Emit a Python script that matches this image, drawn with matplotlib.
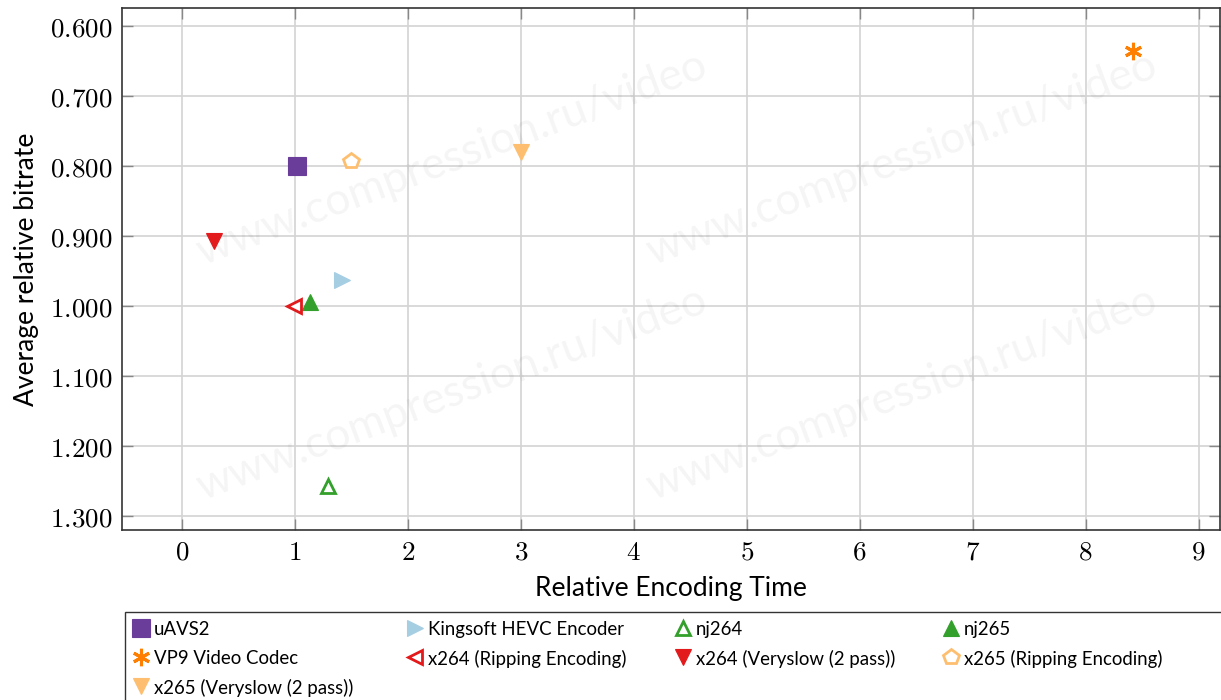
import matplotlib
matplotlib.use("Agg")
import matplotlib.pyplot as plt
from matplotlib.lines import Line2D
from matplotlib.patches import Rectangle

plt.rcParams['mathtext.fontset'] = 'cm'
plt.rcParams['font.family'] = ['Lato', 'DejaVu Sans']

# data
names = ["uAVS2", "Kingsoft HEVC Encoder", "nj264", "nj265", "VP9 Video Codec",
         "x264 (Ripping Encoding)", "x264 (Veryslow (2 pass))",
         "x265 (Ripping Encoding)", "x265 (Veryslow (2 pass))"]
enc_time = [1.02, 1.42, 1.29, 1.13, 8.42, 0.99, 0.28, 1.50, 3.00]
bitrate = [0.800, 0.963, 1.257, 0.994, 0.636, 1.000, 0.907, 0.793, 0.780]
x_ticks = [0, 1, 2, 3, 4, 5, 6, 7, 8, 9]
y_ticks = [0.6, 0.7, 0.8, 0.9, 1.0, 1.1, 1.2, 1.3]

# style per series: (marker, color, filled, size)
styles = [
    ('s', '#6a3d9a', True, 12.5),
    ('>', '#a6cee3', True, 11),
    ('^', '#33a02c', False, 10),
    ('^', '#33a02c', True, 11),
    ((6, 2, 0), '#ff7f00', True, 12.5),
    ('<', '#e31a1c', False, 10),
    ('v', '#e31a1c', True, 11),
    ('p', '#fdbf6f', False, 11.5),
    ('v', '#fdbf6f', True, 11),
]


def marker_kw(m, c, filled, ms):
    if m == (6, 2, 0):
        return dict(marker=m, markersize=ms, markeredgecolor=c, markeredgewidth=2.2)
    return dict(marker=m, markersize=ms, markerfacecolor=c if filled else 'white',
                markeredgecolor=c, markeredgewidth=0.8 if filled else 2.0)


W, H = 1221, 700
fig = plt.figure(figsize=(W / 100, H / 100), dpi=100)
ax = fig.add_axes([122/W, 1-530/H, 1 - 122/W - 1/W, (530-8)/H])

for n, x, y, st in zip(names, enc_time, bitrate, styles):
    ax.plot([x], [y], linestyle='none', zorder=3, **marker_kw(*st))

ax.set_xlim(-0.53, 9.19)
ax.set_ylim(1.32, 0.574)
ax.set_xticks(x_ticks)
ax.set_xticklabels([f'${v}$' for v in x_ticks], fontsize=19.5)
ax.set_yticks(y_ticks)
ax.set_yticklabels([f'${v:.3f}$' for v in y_ticks], fontsize=19.5)
ax.grid(True, color='#d3d3d3', linewidth=1.2)
ax.set_axisbelow(True)
ax.tick_params(direction='in', length=8, width=1, color='#888888',
               top=True, right=True, pad=7)
for s in ax.spines.values():
    s.set_color('#333333')
    s.set_linewidth(1.2)

ax.set_xlabel("Relative Encoding Time", fontsize=19, labelpad=8)
ax.set_ylabel("Average relative bitrate", fontsize=19, labelpad=8)

# watermark
for wx, wy in [(0.30, 0.71), (0.71, 0.71), (0.30, 0.26), (0.71, 0.26)]:
    ax.text(wx, wy, "www.compression.ru/video", transform=ax.transAxes,
            fontsize=32, color='#000000', alpha=0.045,
            rotation=20.5, ha='center', va='center', zorder=1)

# legend drawn by hand: 4 fixed-width columns, row-major order
fig.add_artist(Rectangle((125/W, -0.02), 1.05 - 125/W, (H - 612)/H + 0.02,
                         transform=fig.transFigure, facecolor='white',
                         edgecolor='#333333', linewidth=1.0))
col_x = [133, 407, 675, 943]
row_y = [628, 657, 686]
for i, (n, st) in enumerate(zip(names, styles)):
    cx = col_x[i % 4]
    cy = row_y[i // 4]
    fig.add_artist(Line2D([(cx + 8)/W], [1 - cy/H], transform=fig.transFigure,
                          linestyle='none', **marker_kw(*st)))
    fig.text((cx + 21)/W, 1 - cy/H, n, fontsize=13.4, ha='left', va='center_baseline')

fig.savefig("out.png", dpi=100)
